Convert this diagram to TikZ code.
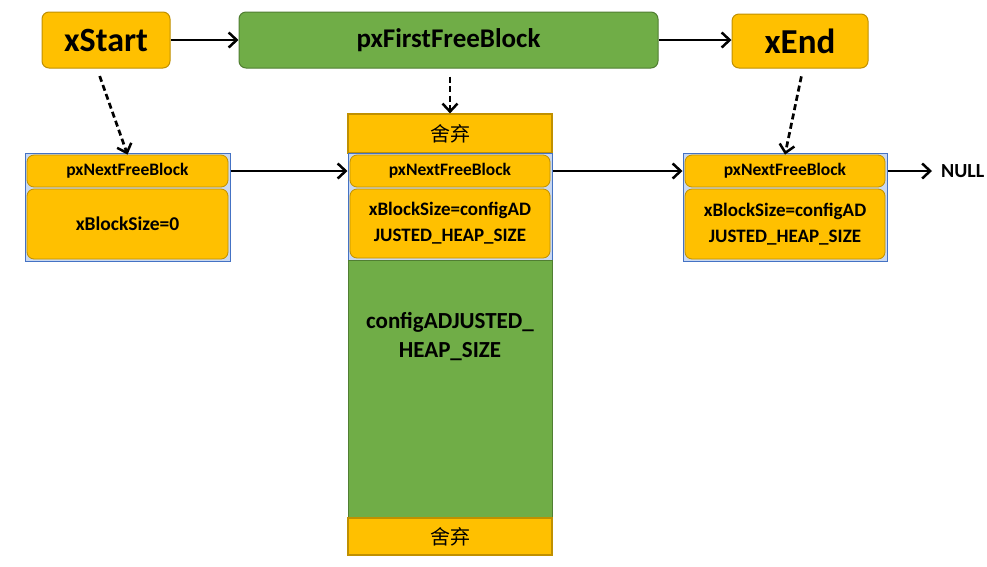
\documentclass[tikz,border=0pt]{standalone}
\usepackage{fontspec}
\setmainfont{Carlito}
\newfontfamily\cjk{Noto Sans CJK SC}
\usetikzlibrary{arrows.meta}
\definecolor{orgfill}{HTML}{FFC000}
\definecolor{orgline}{HTML}{C09000}
\definecolor{grnfill}{HTML}{70AD47}
\definecolor{grnline}{HTML}{507E32}
\definecolor{bluefill}{HTML}{C9D8F0}
\definecolor{blueline}{HTML}{4472C4}
\tikzset{
  orgbox/.style={draw=orgline, fill=orgfill, line width=1pt, rounded corners=7pt, inner sep=0pt, font=\bfseries},
  grnbox/.style={draw=grnline, fill=grnfill, line width=1pt, rounded corners=7pt, inner sep=0pt, font=\bfseries},
  outerbox/.style={draw=blueline, fill=bluefill, line width=1pt, inner sep=0pt},
  innerbox/.style={draw=orgline, fill=orgfill, line width=0.8pt, rounded corners=7pt, inner sep=0pt, font=\bfseries\fontsize{17.5}{20}\selectfont, align=center},
  discard/.style={draw=orgline, fill=orgfill, line width=1.2pt, inner sep=0pt, font=\cjk\fontsize{20}{22}\selectfont},
  heap/.style={draw=grnline, fill=grnfill, line width=1pt, inner sep=0pt},
  conn/.style={line width=2.7pt, -{Straight Barb[length=8pt,width=15pt,line width=2.5pt]}},
  dconn/.style={conn, dash pattern=on 6pt off 3.5pt},
}
\begin{document}
\begin{tikzpicture}[x=1pt,y=-1pt]
\useasboundingbox (0,0) rectangle (987,566);
% top row
\node[orgbox, minimum width=128pt, minimum height=56pt, font=\bfseries\fontsize{34}{38}\selectfont] (xs) at (106,40) {xStart};
\node[grnbox, minimum width=419pt, minimum height=56pt, font=\bfseries\fontsize{27}{30}\selectfont] (pf) at (448.5,40) {pxFirstFreeBlock};
\node[orgbox, minimum width=136pt, minimum height=54pt, font=\bfseries\fontsize{35}{38}\selectfont] (xe) at (800,41) {xEnd};
% left block
\node[outerbox, minimum width=205pt, minimum height=108pt] (lo) at (127.5,207) {};
\node[innerbox, minimum width=201pt, minimum height=32pt] (lpn) at (127.5,171) {pxNextFreeBlock};
\node[innerbox, minimum width=201pt, minimum height=70pt, font=\bfseries\fontsize{19.5}{24}\selectfont] (lsz) at (127.5,224) {xBlockSize=0};
% middle block
\node[discard, minimum width=204pt, minimum height=39pt] (mtop) at (450,133.5) {舍弃};
\node[outerbox, minimum width=204pt, minimum height=107pt] (mo) at (450,206.5) {};
\node[innerbox, minimum width=200pt, minimum height=32pt] (mpn) at (450,171) {pxNextFreeBlock};
\node[innerbox, minimum width=200pt, minimum height=69pt, font=\bfseries\fontsize{19}{26}\selectfont] (msz) at (450,223.5) {xBlockSize=configAD\\JUSTED\_HEAP\_SIZE};
\node[heap, minimum width=204pt, minimum height=258pt] (mh) at (450,389) {};
\node[font=\bfseries\fontsize{23}{29}\selectfont, align=center, inner sep=0pt] (mhl) at (450,337) {configADJUSTED\_\\HEAP\_SIZE};
\node[discard, minimum width=204pt, minimum height=37pt] (mbot) at (450,536.5) {舍弃};
% right block
\node[outerbox, minimum width=204pt, minimum height=108pt] (ro) at (785,207) {};
\node[innerbox, minimum width=200pt, minimum height=32pt] (rpn) at (785,171) {pxNextFreeBlock};
\node[innerbox, minimum width=200pt, minimum height=70pt, font=\bfseries\fontsize{19}{26}\selectfont] (rsz) at (785,224) {xBlockSize=configAD\\JUSTED\_HEAP\_SIZE};
\node[font=\bfseries\fontsize{20}{22}\selectfont, anchor=west, inner sep=0pt] (null) at (941,171) {NULL};
% connectors
\draw[conn] (xs.east) -- (pf.west |- xs.east);
\draw[conn] (pf.east) -- (xe.west |- pf.east);
\draw[conn] (lo.east |- lpn.east) -- (mo.west |- mpn.west);
\draw[conn] (mo.east |- mpn.east) -- (ro.west |- rpn.west);
\draw[conn] (ro.east |- rpn.east) -- ([xshift=-9pt]null.west |- rpn.east);
\draw[dconn, shorten <=8pt] ([xshift=-9pt]xs.south) -- (lpn.north);
\draw[dconn, shorten <=8pt] (mtop.north |- pf.south) -- (mtop.north);
\draw[dconn, shorten <=8pt] ([xshift=3pt]xe.south) -- (rpn.north);
\end{tikzpicture}
\end{document}
